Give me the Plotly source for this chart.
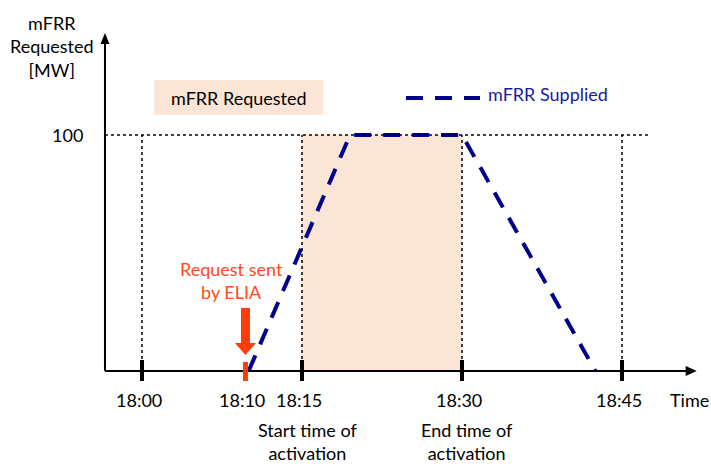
import plotly.graph_objects as go

# ---- data (minutes after 18:00, MW) ----
tick_minutes = [0, 9.7, 15, 30, 45]
tick_labels = ["18:00", "18:10", "18:15", "18:30", "18:45"]
grid_minutes = [0, 15, 30, 45]
request_minute = 9.7
activation_start = 15
activation_end = 30
requested_mw = 100
supplied_minutes = [10, 19.5, 30, 42.5]
supplied_mw = [0, 100, 100, 0]
phase_minutes = [15, 30]
phase_labels = ["Start time of<br>activation", "End time of<br>activation"]
y_label = "mFRR<br>Requested<br>[MW]"

# ---- style ----
W, H = 711, 464
FONT = "Lato, Calibri, Carlito, sans-serif"
NAVY = "#00008B"
NAVY_TXT = "#1a1aa0"
RED = "#FF3B0A"
RED_TXT = "#FF4A1A"
PEACH = "#FBE5D6"
X_RANGE = [-13.31, 53.34]
Y_RANGE = [-39.4, 157.2]
X_AXIS_START = -3.47
X_AXIS_END = 52.0
Y_AXIS_END = 143.2
DOT_END = 47.6

fig = go.Figure()

# supplied line
fig.add_trace(go.Scatter(
    x=supplied_minutes, y=supplied_mw, mode="lines",
    line=dict(color=NAVY, width=4, dash="17px,12px"),
    hoverinfo="skip", showlegend=False))

shapes = []
# requested band
shapes.append(dict(type="rect", x0=activation_start, x1=activation_end, y0=0, y1=requested_mw,
                   fillcolor=PEACH, line=dict(width=0), layer="below"))
# horizontal dotted line at 100
shapes.append(dict(type="line", x0=X_AXIS_START, x1=DOT_END, y0=requested_mw, y1=requested_mw,
                   line=dict(color="black", width=1.5, dash="dot")))
# vertical dotted lines
for m in grid_minutes:
    shapes.append(dict(type="line", x0=m, x1=m, y0=0, y1=requested_mw,
                       line=dict(color="black", width=1.5, dash="dot")))
# axes lines
shapes.append(dict(type="line", x0=X_AXIS_START, x1=X_AXIS_END - 0.8, y0=0, y1=0,
                   line=dict(color="black", width=2)))
shapes.append(dict(type="line", x0=X_AXIS_START, x1=X_AXIS_START, y0=0, y1=Y_AXIS_END - 3,
                   line=dict(color="black", width=2)))
# arrowheads (pixel-sized)
shapes.append(dict(type="path", xsizemode="pixel", ysizemode="pixel",
                   xanchor=X_AXIS_END, yanchor=0,
                   path="M 0 0 L -11 5 L -11 -5 Z", fillcolor="black", line=dict(width=0)))
shapes.append(dict(type="path", xsizemode="pixel", ysizemode="pixel",
                   xanchor=X_AXIS_START, yanchor=Y_AXIS_END,
                   path="M 0 0 L -4.5 -11 L 4.5 -11 Z", fillcolor="black", line=dict(width=0)))
# black ticks
for m in grid_minutes:
    shapes.append(dict(type="line", ysizemode="pixel", yanchor=0,
                       x0=m, x1=m, y0=-10, y1=11, line=dict(color="black", width=4)))
# red tick at request
shapes.append(dict(type="line", ysizemode="pixel", yanchor=0,
                   x0=request_minute, x1=request_minute, y0=-10, y1=9,
                   line=dict(color=RED, width=5)))
# red arrow
shapes.append(dict(type="path", xsizemode="pixel", ysizemode="pixel",
                   xanchor=request_minute, yanchor=0,
                   path="M -4.5 63 L 4.5 63 L 4.5 28 L 10.5 28 L 0 16 L -10.5 28 L -4.5 28 Z",
                   fillcolor=RED, line=dict(width=0)))
# legend box
shapes.append(dict(type="rect", xref="paper", yref="paper",
                   x0=154 / W, x1=323 / W, y0=1 - 115 / H, y1=1 - 80 / H,
                   fillcolor=PEACH, line=dict(width=0), layer="below"))
# legend dashed sample
shapes.append(dict(type="line", xref="paper", yref="paper",
                   x0=406 / W, x1=480 / W, y0=1 - 98 / H, y1=1 - 98 / H,
                   line=dict(color=NAVY, width=4, dash="17px,12px")))

ann = []
for m, lab in zip(tick_minutes, tick_labels):
    ann.append(dict(x=m, y=0, text=lab, showarrow=False, xanchor="center", yanchor="middle",
                    xshift=-3, yshift=-29, font=dict(size=18, color="black", family=FONT)))
ann.append(dict(x=X_AXIS_END, y=0, text="Time", showarrow=False, xanchor="center", yanchor="middle",
                xshift=-7, yshift=-29, font=dict(size=18, color="black", family=FONT)))
for m, lab in zip(phase_minutes, phase_labels):
    ann.append(dict(x=m, y=0, text=lab, showarrow=False, xanchor="center", yanchor="middle",
                    xshift=5, yshift=-70, font=dict(size=18, color="black", family=FONT)))
ann.append(dict(x=X_AXIS_START, y=requested_mw, text=str(requested_mw), showarrow=False,
                xanchor="right", yanchor="middle", xshift=-20,
                font=dict(size=18, color="black", family=FONT)))
ann.append(dict(xref="paper", yref="paper", x=52 / W, y=1 - 46 / H, text=y_label, showarrow=False,
                xanchor="center", yanchor="middle", font=dict(size=18, color="black", family=FONT)))
ann.append(dict(x=request_minute, y=0, text="Request sent<br>by ELIA", showarrow=False,
                xanchor="center", yanchor="middle", xshift=-14, yshift=91,
                font=dict(size=18, color=RED_TXT, family=FONT)))
ann.append(dict(xref="paper", yref="paper", x=238.5 / W, y=1 - 98 / H, text="mFRR Requested",
                showarrow=False, xanchor="center", yanchor="middle",
                font=dict(size=18, color="black", family=FONT)))
ann.append(dict(xref="paper", yref="paper", x=486 / W, y=1 - 94 / H, text="mFRR Supplied",
                showarrow=False, xanchor="left", yanchor="middle",
                font=dict(size=18, color=NAVY_TXT, family=FONT)))

fig.update_layout(
    width=W, height=H, margin=dict(l=0, r=0, t=0, b=0),
    paper_bgcolor="white", plot_bgcolor="white",
    xaxis=dict(range=X_RANGE, visible=False, fixedrange=True),
    yaxis=dict(range=Y_RANGE, visible=False, fixedrange=True),
    shapes=shapes, annotations=ann, showlegend=False,
)
fig.write_html("out.html", config={"displayModeBar": False},
               post_script="document.body.style.margin='0';document.body.style.overflow='hidden';")
